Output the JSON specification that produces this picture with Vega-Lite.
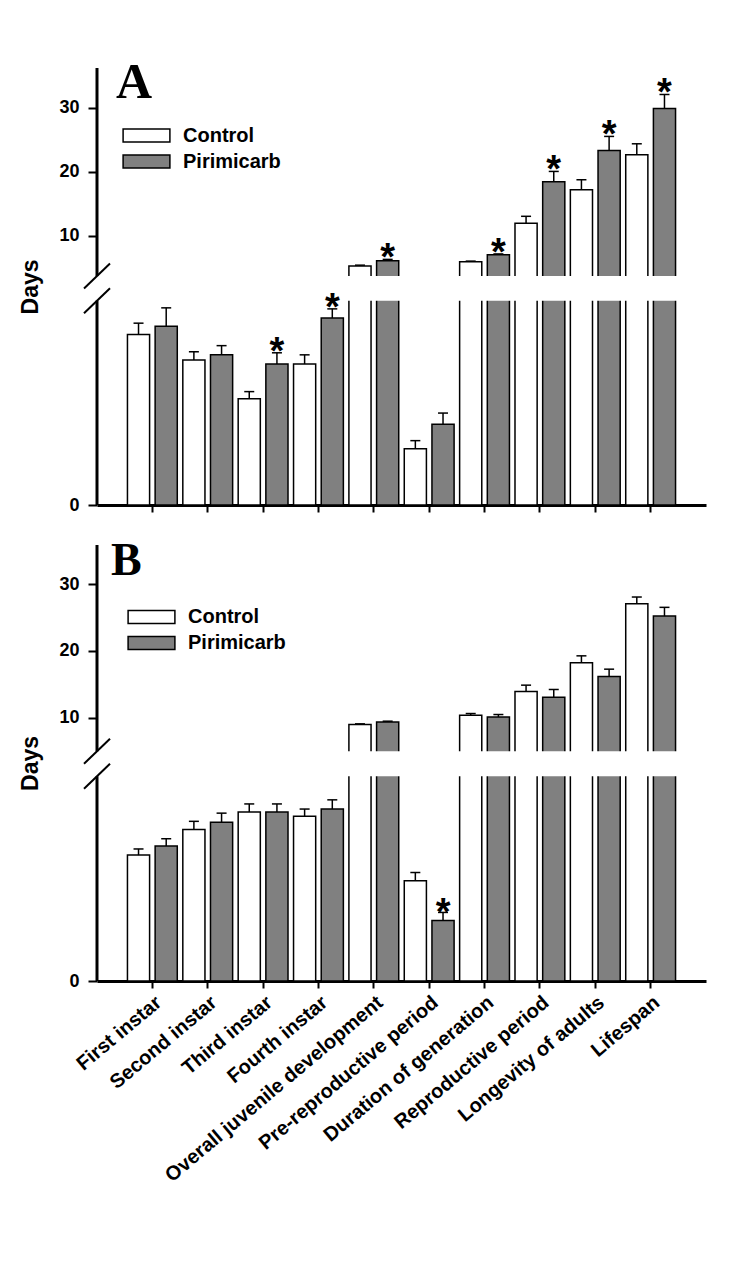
{
  "$schema": "https://vega.github.io/schema/vega-lite/v6.json",
  "padding": {"left": 19, "top": 58, "right": 5, "bottom": 5},
  "background": "white",
  "config": {"view": {"stroke": null}, "font": "Liberation Sans"},
  "datasets": {
    "A": [
      {"stage": "First instar", "group": "Control", "mean": 1.67, "upper": 1.78, "sig": ""},
      {"stage": "First instar", "group": "Pirimicarb", "mean": 1.75, "upper": 1.93, "sig": ""},
      {"stage": "Second instar", "group": "Control", "mean": 1.42, "upper": 1.50, "sig": ""},
      {"stage": "Second instar", "group": "Pirimicarb", "mean": 1.47, "upper": 1.56, "sig": ""},
      {"stage": "Third instar", "group": "Control", "mean": 1.04, "upper": 1.11, "sig": ""},
      {"stage": "Third instar", "group": "Pirimicarb", "mean": 1.38, "upper": 1.49, "sig": "*"},
      {"stage": "Fourth instar", "group": "Control", "mean": 1.38, "upper": 1.47, "sig": ""},
      {"stage": "Fourth instar", "group": "Pirimicarb", "mean": 1.83, "upper": 1.92, "sig": "*"},
      {"stage": "Overall juvenile development", "group": "Control", "mean": 5.33, "upper": 5.45, "sig": ""},
      {"stage": "Overall juvenile development", "group": "Pirimicarb", "mean": 6.15, "upper": 6.35, "sig": "*"},
      {"stage": "Pre-reproductive period", "group": "Control", "mean": 0.55, "upper": 0.63, "sig": ""},
      {"stage": "Pre-reproductive period", "group": "Pirimicarb", "mean": 0.79, "upper": 0.90, "sig": ""},
      {"stage": "Duration of generation", "group": "Control", "mean": 6.0, "upper": 6.08, "sig": ""},
      {"stage": "Duration of generation", "group": "Pirimicarb", "mean": 7.09, "upper": 7.2, "sig": "*"},
      {"stage": "Reproductive period", "group": "Control", "mean": 11.98, "upper": 13.07, "sig": ""},
      {"stage": "Reproductive period", "group": "Pirimicarb", "mean": 18.46, "upper": 20.07, "sig": "*"},
      {"stage": "Longevity of adults", "group": "Control", "mean": 17.21, "upper": 18.77, "sig": ""},
      {"stage": "Longevity of adults", "group": "Pirimicarb", "mean": 23.35, "upper": 25.53, "sig": "*"},
      {"stage": "Lifespan", "group": "Control", "mean": 22.66, "upper": 24.38, "sig": ""},
      {"stage": "Lifespan", "group": "Pirimicarb", "mean": 29.89, "upper": 32.07, "sig": "*"}
    ],
    "B": [
      {"stage": "First instar", "group": "Control", "mean": 1.23, "upper": 1.29, "sig": ""},
      {"stage": "First instar", "group": "Pirimicarb", "mean": 1.32, "upper": 1.39, "sig": ""},
      {"stage": "Second instar", "group": "Control", "mean": 1.48, "upper": 1.56, "sig": ""},
      {"stage": "Second instar", "group": "Pirimicarb", "mean": 1.55, "upper": 1.64, "sig": ""},
      {"stage": "Third instar", "group": "Control", "mean": 1.65, "upper": 1.73, "sig": ""},
      {"stage": "Third instar", "group": "Pirimicarb", "mean": 1.65, "upper": 1.73, "sig": ""},
      {"stage": "Fourth instar", "group": "Control", "mean": 1.61, "upper": 1.68, "sig": ""},
      {"stage": "Fourth instar", "group": "Pirimicarb", "mean": 1.68, "upper": 1.77, "sig": ""},
      {"stage": "Overall juvenile development", "group": "Control", "mean": 8.95, "upper": 9.05, "sig": ""},
      {"stage": "Overall juvenile development", "group": "Pirimicarb", "mean": 9.34, "upper": 9.45, "sig": ""},
      {"stage": "Pre-reproductive period", "group": "Control", "mean": 0.98, "upper": 1.06, "sig": ""},
      {"stage": "Pre-reproductive period", "group": "Pirimicarb", "mean": 0.59, "upper": 0.67, "sig": "*"},
      {"stage": "Duration of generation", "group": "Control", "mean": 10.35, "upper": 10.6, "sig": ""},
      {"stage": "Duration of generation", "group": "Pirimicarb", "mean": 10.09, "upper": 10.45, "sig": ""},
      {"stage": "Reproductive period", "group": "Control", "mean": 13.91, "upper": 14.86, "sig": ""},
      {"stage": "Reproductive period", "group": "Pirimicarb", "mean": 13.05, "upper": 14.21, "sig": ""},
      {"stage": "Longevity of adults", "group": "Control", "mean": 18.21, "upper": 19.26, "sig": ""},
      {"stage": "Longevity of adults", "group": "Pirimicarb", "mean": 16.17, "upper": 17.26, "sig": ""},
      {"stage": "Lifespan", "group": "Control", "mean": 27.08, "upper": 28.09, "sig": ""},
      {"stage": "Lifespan", "group": "Pirimicarb", "mean": 25.23, "upper": 26.54, "sig": ""}
    ]
  },
  "vconcat": [
    {
      "width": 609,
      "height": 437,
      "layer": [
        {
          "data": {"name": "A"},
          "layer": [
            {
              "mark": {"type": "bar", "stroke": "black", "strokeWidth": 1.5},
              "encoding": {
                "x": {"field": "stage", "type": "nominal", "sort": ["First instar", "Second instar", "Third instar", "Fourth instar", "Overall juvenile development", "Pre-reproductive period", "Duration of generation", "Reproductive period", "Longevity of adults", "Lifespan"],
                  "scale": {"paddingInner": 0.1, "paddingOuter": 0.55},
                  "axis": {"title": null, "labels": false, "tickSize": 7, "tickWidth": 2, "tickColor": "black", "domainWidth": 3, "domainColor": "black"}},
                "xOffset": {"field": "group", "type": "nominal", "sort": ["Control", "Pirimicarb"], "scale": {"paddingInner": 0.2, "paddingOuter": 0}},
                "y": {"field": "mean", "type": "quantitative",
                  "scale": {"domain": [0, 2, 3.76, 36.2], "range": [437, 232.7, 208, 0], "nice": false, "zero": false},
                  "axis": {"title": "Days", "values": [0, 10, 20, 30], "domain": false, "grid": false, "tickSize": 9, "tickWidth": 2, "tickColor": "black", "labelFont": "Liberation Sans", "labelFontWeight": "bold", "labelFontSize": 18, "labelColor": "black", "labelPadding": 9, "titleFont": "Liberation Sans", "titleFontWeight": "bold", "titleFontSize": 23, "titleColor": "black", "titlePadding": 16}},
                "fill": {"field": "group", "type": "nominal", "scale": {"domain": ["Control", "Pirimicarb"], "range": ["white", "#808080"]},
                  "legend": {"orient": "none", "legendX": 35.5, "legendY": 53.5, "title": null, "symbolType": "M-1.8,-0.5H1.8V0.5H-1.8Z", "symbolSize": 676, "symbolStrokeColor": "black", "symbolStrokeWidth": 1.5, "symbolOpacity": 1, "labelFont": "Liberation Sans", "labelFontWeight": "bold", "labelFontSize": 20, "labelColor": "black", "labelOffset": 22.5, "rowPadding": 2}}
              }
            },
            {
              "mark": {"type": "rule", "strokeWidth": 1.5, "color": "black"},
              "encoding": {
                "x": {"field": "stage", "type": "nominal", "sort": ["First instar", "Second instar", "Third instar", "Fourth instar", "Overall juvenile development", "Pre-reproductive period", "Duration of generation", "Reproductive period", "Longevity of adults", "Lifespan"]},
                "xOffset": {"field": "group", "type": "nominal", "sort": ["Control", "Pirimicarb"]},
                "y": {"field": "upper", "type": "quantitative"}, "y2": {"field": "mean"}}
            },
            {
              "mark": {"type": "tick", "orient": "horizontal", "size": 10, "thickness": 1.5, "color": "black", "opacity": 1},
              "encoding": {
                "x": {"field": "stage", "type": "nominal", "sort": ["First instar", "Second instar", "Third instar", "Fourth instar", "Overall juvenile development", "Pre-reproductive period", "Duration of generation", "Reproductive period", "Longevity of adults", "Lifespan"]},
                "xOffset": {"field": "group", "type": "nominal", "sort": ["Control", "Pirimicarb"]},
                "y": {"field": "upper", "type": "quantitative"}}
            },
            {
              "data": {"values": [{}]},
              "mark": {"type": "rect", "fill": "white"},
              "encoding": {"y": {"datum": 2, "type": "quantitative"}, "y2": {"datum": 3.76}}
            },
            {
              "transform": [{"filter": "datum.sig == '*'"}],
              "mark": {"type": "text", "font": "Liberation Sans", "fontWeight": "bold", "fontSize": 38, "baseline": "alphabetic", "dy": 11, "color": "black"},
              "encoding": {
                "x": {"field": "stage", "type": "nominal", "sort": ["First instar", "Second instar", "Third instar", "Fourth instar", "Overall juvenile development", "Pre-reproductive period", "Duration of generation", "Reproductive period", "Longevity of adults", "Lifespan"]},
                "xOffset": {"field": "group", "type": "nominal", "sort": ["Control", "Pirimicarb"]},
                "y": {"field": "upper", "type": "quantitative"}, "text": {"field": "sig"}}
            }
          ]
        },
        {
          "data": {"values": [{}]},
          "layer": [
            {
              "mark": {"type": "rule", "strokeWidth": 3, "color": "black"},
              "encoding": {"x": {"datum": 0, "type": "quantitative", "scale": {"domain": [0, 1], "nice": false, "zero": false}, "axis": null}, "y": {"datum": 0, "type": "quantitative"}, "y2": {"datum": 2}}
            },
            {
              "mark": {"type": "rule", "strokeWidth": 3, "color": "black"},
              "encoding": {"x": {"datum": 0, "type": "quantitative"}, "y": {"datum": 3.76, "type": "quantitative"}, "y2": {"datum": 36.2}}
            },
            {
              "mark": {"type": "rule", "strokeWidth": 2, "color": "black", "xOffset": -13, "x2Offset": 13, "yOffset": 12.5, "y2Offset": -12.5},
              "encoding": {"x": {"datum": 0, "type": "quantitative"}, "x2": {"datum": 0}, "y": {"datum": 2, "type": "quantitative"}, "y2": {"datum": 2}}
            },
            {
              "mark": {"type": "rule", "strokeWidth": 2, "color": "black", "xOffset": -13, "x2Offset": 13, "yOffset": 12.5, "y2Offset": -12.5},
              "encoding": {"x": {"datum": 0, "type": "quantitative"}, "x2": {"datum": 0}, "y": {"datum": 3.76, "type": "quantitative"}, "y2": {"datum": 3.76}}
            },
            {
              "mark": {"type": "text", "text": "A", "font": "Liberation Serif", "fontWeight": "bold", "fontSize": 50, "align": "left", "baseline": "alphabetic", "dx": 19, "dy": 30, "color": "black"},
              "encoding": {"x": {"datum": 0, "type": "quantitative"}, "y": {"datum": 36.2, "type": "quantitative"}}
            }
          ]
        }
      ],
      "resolve": {"scale": {"x": "independent"}}
    },
    {
      "width": 609,
      "height": 436,
      "layer": [
        {
          "data": {"name": "B"},
          "layer": [
            {
              "mark": {"type": "bar", "stroke": "black", "strokeWidth": 1.5},
              "encoding": {
                "x": {"field": "stage", "type": "nominal", "sort": ["First instar", "Second instar", "Third instar", "Fourth instar", "Overall juvenile development", "Pre-reproductive period", "Duration of generation", "Reproductive period", "Longevity of adults", "Lifespan"],
                  "scale": {"paddingInner": 0.1, "paddingOuter": 0.55},
                  "axis": {"title": null, "labelAngle": -40, "labelLimit": 0, "labelFont": "Liberation Sans", "labelFontWeight": "bold", "labelFontSize": 20, "labelColor": "black", "labelPadding": 4, "tickSize": 7, "tickWidth": 2, "tickColor": "black", "domainWidth": 3, "domainColor": "black"}},
                "xOffset": {"field": "group", "type": "nominal", "sort": ["Control", "Pirimicarb"], "scale": {"paddingInner": 0.2, "paddingOuter": 0}},
                "y": {"field": "mean", "type": "quantitative",
                  "scale": {"domain": [0, 2, 4.93, 35.9], "range": [436, 231.3, 206.3, 0], "nice": false, "zero": false},
                  "axis": {"title": "Days", "values": [0, 10, 20, 30], "domain": false, "grid": false, "tickSize": 9, "tickWidth": 2, "tickColor": "black", "labelFont": "Liberation Sans", "labelFontWeight": "bold", "labelFontSize": 18, "labelColor": "black", "labelPadding": 9, "titleFont": "Liberation Sans", "titleFontWeight": "bold", "titleFontSize": 23, "titleColor": "black", "titlePadding": 16}},
                "fill": {"field": "group", "type": "nominal", "scale": {"domain": ["Control", "Pirimicarb"], "range": ["white", "#808080"]},
                  "legend": {"orient": "none", "legendX": 40.5, "legendY": 58, "title": null, "symbolType": "M-1.8,-0.5H1.8V0.5H-1.8Z", "symbolSize": 676, "symbolStrokeColor": "black", "symbolStrokeWidth": 1.5, "symbolOpacity": 1, "labelFont": "Liberation Sans", "labelFontWeight": "bold", "labelFontSize": 20, "labelColor": "black", "labelOffset": 22.5, "rowPadding": 2}}
              }
            },
            {
              "mark": {"type": "rule", "strokeWidth": 1.5, "color": "black"},
              "encoding": {
                "x": {"field": "stage", "type": "nominal", "sort": ["First instar", "Second instar", "Third instar", "Fourth instar", "Overall juvenile development", "Pre-reproductive period", "Duration of generation", "Reproductive period", "Longevity of adults", "Lifespan"]},
                "xOffset": {"field": "group", "type": "nominal", "sort": ["Control", "Pirimicarb"]},
                "y": {"field": "upper", "type": "quantitative"}, "y2": {"field": "mean"}}
            },
            {
              "mark": {"type": "tick", "orient": "horizontal", "size": 10, "thickness": 1.5, "color": "black", "opacity": 1},
              "encoding": {
                "x": {"field": "stage", "type": "nominal", "sort": ["First instar", "Second instar", "Third instar", "Fourth instar", "Overall juvenile development", "Pre-reproductive period", "Duration of generation", "Reproductive period", "Longevity of adults", "Lifespan"]},
                "xOffset": {"field": "group", "type": "nominal", "sort": ["Control", "Pirimicarb"]},
                "y": {"field": "upper", "type": "quantitative"}}
            },
            {
              "data": {"values": [{}]},
              "mark": {"type": "rect", "fill": "white"},
              "encoding": {"y": {"datum": 2, "type": "quantitative"}, "y2": {"datum": 4.93}}
            },
            {
              "transform": [{"filter": "datum.sig == '*'"}],
              "mark": {"type": "text", "font": "Liberation Sans", "fontWeight": "bold", "fontSize": 38, "baseline": "alphabetic", "dy": 13, "color": "black"},
              "encoding": {
                "x": {"field": "stage", "type": "nominal", "sort": ["First instar", "Second instar", "Third instar", "Fourth instar", "Overall juvenile development", "Pre-reproductive period", "Duration of generation", "Reproductive period", "Longevity of adults", "Lifespan"]},
                "xOffset": {"field": "group", "type": "nominal", "sort": ["Control", "Pirimicarb"]},
                "y": {"field": "upper", "type": "quantitative"}, "text": {"field": "sig"}}
            }
          ]
        },
        {
          "data": {"values": [{}]},
          "layer": [
            {
              "mark": {"type": "rule", "strokeWidth": 3, "color": "black"},
              "encoding": {"x": {"datum": 0, "type": "quantitative", "scale": {"domain": [0, 1], "nice": false, "zero": false}, "axis": null}, "y": {"datum": 0, "type": "quantitative"}, "y2": {"datum": 2}}
            },
            {
              "mark": {"type": "rule", "strokeWidth": 3, "color": "black"},
              "encoding": {"x": {"datum": 0, "type": "quantitative"}, "y": {"datum": 4.93, "type": "quantitative"}, "y2": {"datum": 35.9}}
            },
            {
              "mark": {"type": "rule", "strokeWidth": 2, "color": "black", "xOffset": -13, "x2Offset": 13, "yOffset": 12.5, "y2Offset": -12.5},
              "encoding": {"x": {"datum": 0, "type": "quantitative"}, "x2": {"datum": 0}, "y": {"datum": 2, "type": "quantitative"}, "y2": {"datum": 2}}
            },
            {
              "mark": {"type": "rule", "strokeWidth": 2, "color": "black", "xOffset": -13, "x2Offset": 13, "yOffset": 12.5, "y2Offset": -12.5},
              "encoding": {"x": {"datum": 0, "type": "quantitative"}, "x2": {"datum": 0}, "y": {"datum": 4.93, "type": "quantitative"}, "y2": {"datum": 4.93}}
            },
            {
              "mark": {"type": "text", "text": "B", "font": "Liberation Serif", "fontWeight": "bold", "fontSize": 46, "align": "left", "baseline": "alphabetic", "dx": 14, "dy": 30, "color": "black"},
              "encoding": {"x": {"datum": 0, "type": "quantitative"}, "y": {"datum": 35.9, "type": "quantitative"}}
            }
          ]
        }
      ],
      "resolve": {"scale": {"x": "independent"}}
    }
  ],
  "spacing": 40,
  "bounds": "flush",
  "resolve": {"scale": {"x": "independent", "y": "independent", "fill": "independent"}, "legend": {"fill": "independent"}}
}
